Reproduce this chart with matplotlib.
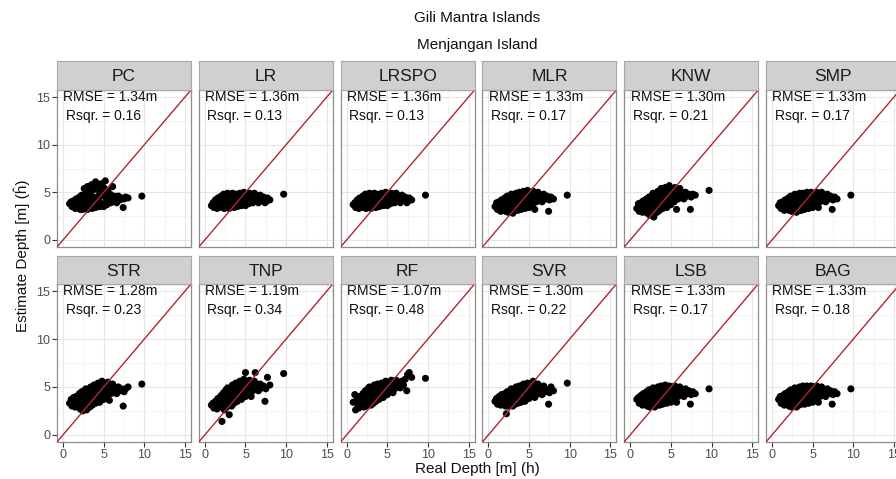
import matplotlib
matplotlib.use("Agg")
import matplotlib.pyplot as plt

plt.rcParams['font.family'] = ['Liberation Sans', 'DejaVu Sans']

# ---------------- data ----------------
models = ["PC", "LR", "LRSPO", "MLR", "KNW", "SMP",
          "STR", "TNP", "RF", "SVR", "LSB", "BAG"]
rmse = [1.34, 1.36, 1.36, 1.33, 1.30, 1.33, 1.28, 1.19, 1.07, 1.30, 1.33, 1.33]
rsqr = [0.16, 0.13, 0.13, 0.17, 0.21, 0.17, 0.23, 0.34, 0.48, 0.22, 0.17, 0.18]

real_depth = [0.8, 1.0, 1.1, 1.3, 1.4, 1.5, 1.6, 1.7, 1.8, 1.9,
              2.0, 2.1, 2.1, 2.2, 2.3, 2.4, 2.4, 2.5, 2.6, 2.7,
              2.8, 2.8, 2.9, 3.0, 3.0, 3.1, 3.2, 3.3, 3.3, 3.4,
              3.5, 3.5, 3.6, 3.7, 3.8, 3.8, 3.9, 4.0, 4.0, 4.1,
              4.2, 4.3, 4.3, 4.4, 4.5, 4.6, 4.6, 4.7, 4.8, 4.9,
              5.0, 5.0, 5.1, 5.2, 5.3, 5.4, 5.5, 5.6, 5.7, 5.8,
              5.9, 6.0, 6.1, 6.2, 6.3, 6.5, 6.6, 6.8, 7.0, 7.2,
              7.5, 7.7, 8.0, 2.6, 3.6, 4.5, 5.5, 1.2, 7.4, 9.7]

est_PC = [3.8, 4.0, 3.5, 4.1, 3.6, 3.3, 4.3, 3.7, 3.4, 4.0,
          4.5, 3.2, 3.9, 3.6, 4.7, 3.2, 4.2, 3.8, 5.4, 3.4,
          4.0, 4.8, 3.6, 5.6, 3.2, 4.6, 3.8, 5.1, 3.4, 4.8,
          5.8, 4.4, 3.3, 4.1, 5.3, 3.6, 4.0, 6.1, 3.4, 4.5,
          3.8, 5.6, 3.5, 4.3, 5.0, 4.6, 3.6, 5.9, 4.9, 3.8,
          5.5, 3.5, 4.7, 6.2, 4.4, 3.7, 5.2, 4.2, 3.9, 4.8,
          3.9, 4.5, 5.6, 4.1, 4.6, 4.3, 3.9, 4.6, 4.2, 4.4,
          4.3, 4.5, 4.4, 3.5, 4.1, 3.5, 4.1, 3.9, 3.4, 4.6]
est_LR = [3.6, 3.9, 3.4, 4.2, 3.7, 3.3, 4.4, 3.8, 3.5, 4.1,
          4.6, 3.4, 4.0, 3.7, 4.8, 3.3, 4.3, 3.9, 4.6, 3.5,
          4.1, 4.9, 3.7, 4.4, 3.3, 4.7, 3.9, 4.2, 3.5, 4.9,
          3.8, 4.5, 3.4, 4.2, 4.8, 3.7, 4.0, 4.6, 3.5, 4.3,
          3.9, 4.9, 3.6, 4.4, 4.0, 4.7, 3.7, 4.3, 5.0, 3.9,
          4.5, 3.6, 4.8, 4.1, 4.6, 3.8, 4.9, 4.3, 4.0, 4.7,
          3.9, 4.5, 4.9, 4.1, 4.6, 4.3, 3.9, 4.7, 4.2, 4.5,
          4.0, 4.4, 4.2, 3.6, 4.1, 3.6, 4.2, 4.0, 3.9, 4.8]
est_LRSPO = [3.7, 3.9, 3.4, 4.2, 3.6, 3.3, 4.4, 3.8, 3.5, 4.1,
             4.6, 3.4, 4.0, 3.7, 4.8, 3.3, 4.3, 3.9, 4.6, 3.5,
             4.1, 4.9, 3.7, 4.4, 3.3, 4.7, 3.9, 4.2, 3.5, 4.9,
             3.8, 4.5, 3.4, 4.2, 4.8, 3.7, 4.0, 4.6, 3.5, 4.3,
             3.9, 4.9, 3.6, 4.4, 4.0, 4.7, 3.7, 4.3, 5.0, 3.9,
             4.5, 3.6, 4.8, 4.1, 4.6, 3.8, 4.9, 4.3, 4.0, 4.7,
             3.9, 4.5, 4.9, 4.1, 4.6, 4.3, 3.9, 4.7, 4.2, 4.5,
             4.0, 4.4, 4.2, 3.6, 4.1, 3.6, 4.2, 4.0, 3.9, 4.7]
est_MLR = [3.5, 3.9, 3.2, 4.0, 3.5, 3.0, 4.2, 3.6, 3.2, 3.9,
           4.4, 3.0, 3.7, 3.4, 4.6, 2.9, 4.1, 3.6, 4.5, 3.2,
           3.9, 4.8, 3.4, 4.3, 2.8, 4.7, 3.7, 4.1, 3.1, 4.9,
           3.6, 4.5, 3.1, 4.2, 5.0, 3.5, 3.9, 4.7, 3.2, 4.3,
           3.8, 5.1, 3.4, 4.4, 3.9, 4.9, 3.5, 4.3, 5.2, 3.8,
           4.6, 3.4, 5.0, 4.1, 4.7, 3.7, 5.1, 4.4, 3.2, 4.8,
           4.0, 4.6, 5.0, 4.2, 4.7, 4.4, 4.0, 4.8, 4.3, 4.6,
           4.2, 4.5, 4.3, 3.3, 4.0, 3.3, 4.2, 3.7, 3.0, 4.7]
est_KNW = [3.3, 3.8, 3.0, 3.9, 3.3, 2.9, 4.1, 3.5, 3.0, 3.8,
           4.3, 2.8, 3.6, 3.2, 4.5, 2.6, 4.0, 3.5, 4.6, 3.0,
           3.8, 4.9, 2.4, 4.2, 3.0, 4.8, 3.6, 4.3, 2.9, 5.1,
           3.7, 4.6, 3.1, 4.4, 5.4, 3.4, 4.0, 5.0, 3.3, 4.5,
           3.8, 5.5, 3.5, 4.6, 4.1, 5.2, 3.6, 4.5, 5.7, 4.0,
           4.8, 3.7, 5.3, 4.3, 5.0, 4.0, 5.5, 4.6, 3.2, 5.1,
           4.3, 4.9, 5.4, 4.5, 5.0, 4.7, 4.3, 5.0, 4.6, 4.8,
           4.5, 4.8, 4.7, 3.2, 4.0, 3.4, 4.4, 3.6, 3.2, 5.2]
est_SMP = [3.6, 3.9, 3.3, 4.0, 3.5, 3.1, 4.2, 3.7, 3.2, 3.9,
           4.4, 3.1, 3.8, 3.4, 4.6, 3.0, 4.1, 3.6, 4.5, 3.2,
           3.9, 4.8, 3.4, 4.3, 2.9, 4.7, 3.7, 4.1, 3.1, 4.9,
           3.6, 4.5, 3.1, 4.2, 4.9, 3.5, 3.9, 4.7, 3.2, 4.3,
           3.8, 5.0, 3.4, 4.4, 3.9, 4.8, 3.5, 4.3, 5.0, 3.8,
           4.6, 3.4, 4.9, 4.1, 4.7, 3.7, 5.0, 4.4, 3.4, 4.8,
           4.0, 4.6, 5.0, 4.2, 4.7, 4.4, 4.0, 4.8, 4.3, 4.6,
           4.2, 4.5, 4.3, 3.3, 4.0, 3.3, 4.2, 3.7, 3.2, 4.7]
est_STR = [3.3, 3.7, 3.0, 3.9, 3.3, 2.9, 4.0, 3.5, 3.0, 3.8,
           4.3, 2.7, 3.6, 3.2, 4.5, 2.5, 4.0, 3.5, 4.6, 3.0,
           3.8, 4.8, 2.6, 4.2, 3.0, 4.7, 3.6, 4.3, 2.9, 5.0,
           3.7, 4.6, 3.1, 4.4, 5.2, 3.4, 4.0, 4.9, 3.3, 4.5,
           3.8, 5.4, 3.5, 4.6, 4.1, 5.1, 3.6, 4.5, 5.6, 4.0,
           4.8, 3.7, 5.3, 4.3, 5.0, 4.0, 5.5, 4.6, 3.6, 5.1,
           4.3, 4.9, 5.3, 4.5, 5.0, 4.7, 4.3, 5.0, 4.6, 4.8,
           4.5, 4.8, 5.0, 3.2, 4.0, 3.4, 4.4, 3.6, 3.0, 5.3]
est_TNP = [3.1, 3.3, 2.8, 3.5, 3.0, 2.7, 3.8, 3.2, 2.9, 3.6,
           4.1, 1.4, 3.4, 3.0, 4.4, 2.6, 3.9, 3.3, 4.7, 2.9,
           3.7, 4.9, 3.2, 4.3, 2.1, 4.8, 3.6, 4.4, 3.0, 5.2,
           3.8, 4.7, 3.3, 4.5, 5.4, 3.6, 4.1, 5.1, 3.5, 4.7,
           4.0, 5.6, 3.8, 4.8, 4.3, 5.3, 3.9, 4.7, 5.8, 4.2,
           6.5, 4.0, 5.5, 4.6, 5.2, 4.3, 5.7, 4.9, 4.0, 5.4,
           4.6, 5.2, 5.6, 6.5, 5.3, 5.0, 4.6, 5.3, 4.9, 5.1,
           4.8, 6.0, 5.2, 4.6, 4.3, 3.7, 4.7, 3.2, 3.5, 6.4]
est_RF = [3.4, 4.2, 2.6, 3.8, 3.0, 2.8, 4.0, 3.4, 3.0, 3.8,
          4.3, 2.9, 3.7, 3.3, 4.6, 3.0, 4.1, 3.6, 4.8, 3.2,
          4.0, 5.0, 3.4, 4.5, 3.1, 4.9, 3.8, 4.6, 3.3, 5.2,
          4.0, 4.8, 3.5, 4.6, 5.3, 3.9, 4.3, 5.1, 3.7, 4.8,
          4.2, 5.4, 4.0, 4.9, 4.5, 5.3, 4.1, 4.8, 5.6, 4.4,
          5.1, 4.2, 5.5, 4.7, 5.3, 4.5, 5.7, 5.0, 4.4, 5.4,
          4.8, 5.3, 5.7, 5.0, 5.5, 5.3, 4.9, 5.6, 5.2, 5.8,
          6.3, 6.5, 6.0, 3.9, 4.4, 3.9, 4.8, 3.5, 4.6, 5.9]
est_SVR = [3.5, 3.8, 3.2, 4.0, 3.4, 3.1, 4.2, 3.6, 3.2, 3.9,
           4.3, 3.0, 3.7, 2.2, 4.5, 3.0, 4.1, 3.5, 4.6, 3.1,
           3.9, 4.8, 3.3, 4.3, 3.0, 4.7, 3.7, 4.2, 3.2, 5.0,
           3.7, 4.6, 3.3, 4.3, 5.1, 3.6, 4.0, 4.8, 3.4, 4.4,
           3.9, 5.3, 3.6, 4.5, 4.1, 5.0, 3.7, 4.4, 5.4, 4.0,
           4.7, 3.8, 5.2, 4.3, 4.9, 4.0, 5.6, 4.5, 3.9, 5.0,
           4.2, 4.8, 5.3, 4.4, 4.9, 4.6, 4.2, 5.1, 4.5, 4.7,
           4.4, 5.0, 4.6, 3.4, 4.1, 3.5, 4.4, 3.8, 3.2, 5.4]
est_LSB = [3.7, 3.9, 3.3, 4.1, 3.5, 3.1, 4.3, 3.7, 3.2, 4.0,
           4.5, 3.0, 3.8, 3.4, 4.7, 2.9, 4.1, 3.6, 4.6, 3.2,
           3.9, 4.9, 3.4, 4.3, 2.9, 4.8, 3.7, 4.2, 3.1, 5.0,
           3.6, 4.6, 3.1, 4.3, 5.1, 3.5, 3.9, 4.8, 3.2, 4.4,
           3.8, 5.2, 3.4, 4.5, 3.9, 4.9, 3.5, 4.4, 5.1, 3.8,
           4.6, 3.4, 5.0, 4.1, 4.7, 3.7, 5.1, 4.4, 3.4, 4.8,
           4.0, 4.6, 5.0, 4.2, 4.7, 4.4, 4.0, 4.8, 4.3, 4.6,
           4.2, 4.5, 4.3, 3.3, 4.0, 3.3, 4.2, 3.7, 3.2, 4.8]
est_BAG = [3.7, 4.0, 3.3, 4.1, 3.5, 3.1, 4.3, 3.7, 3.2, 4.0,
           4.5, 3.0, 3.8, 3.5, 4.7, 2.9, 4.1, 3.6, 4.6, 3.2,
           3.9, 4.9, 3.4, 4.4, 2.9, 4.8, 3.7, 4.2, 3.1, 5.0,
           3.6, 4.6, 3.2, 4.3, 5.1, 3.5, 3.9, 4.8, 3.2, 4.4,
           3.8, 5.1, 3.4, 4.5, 3.9, 4.9, 3.5, 4.4, 5.1, 3.8,
           4.6, 3.4, 5.0, 4.1, 4.7, 3.7, 5.1, 4.4, 3.4, 4.8,
           4.0, 4.6, 5.0, 4.2, 4.7, 4.4, 4.0, 4.8, 4.3, 4.6,
           4.2, 4.5, 4.3, 3.3, 4.0, 3.3, 4.2, 3.7, 3.2, 4.8]

estimates = [est_PC, est_LR, est_LRSPO, est_MLR, est_KNW, est_SMP,
             est_STR, est_TNP, est_RF, est_SVR, est_LSB, est_BAG]

tick_values = [0, 5, 10, 15]
minor_values = [2.5, 7.5, 12.5]
axis_lim = (-0.75, 15.75)

# ---------------- layout ----------------
W, H = 896, 479
fig = plt.figure(figsize=(W / 100, H / 100), dpi=100)
fig.patch.set_facecolor("white")

col_left = [57 + 141.8 * i for i in range(6)]
pw = 134
rows = [(61, 90, 247), (256, 284, 442)]  # strip top, panel top, panel bottom

for idx, name in enumerate(models):
    r, c = divmod(idx, 6)
    st, pt, pb = rows[r]
    l = col_left[c]
    ax = fig.add_axes([l / W, 1 - pb / H, pw / W, (pb - pt) / H])
    ax.set_facecolor("white")
    ax.set_xlim(*axis_lim)
    ax.set_ylim(*axis_lim)
    ax.set_xticks(tick_values)
    ax.set_yticks(tick_values)
    ax.set_xticks(minor_values, minor=True)
    ax.set_yticks(minor_values, minor=True)
    ax.grid(True, which="major", color="#E6E6E6", lw=0.8, zorder=0)
    ax.grid(True, which="minor", color="#F3F3F3", lw=0.6, zorder=0)
    ax.set_axisbelow(True)
    for sp in ax.spines.values():
        sp.set_color("#8C8C8C")
        sp.set_linewidth(0.9)
    ax.tick_params(which="minor", length=0)
    ax.tick_params(which="major", length=3.5, width=0.8, color="#333333",
                   labelsize=9, labelcolor="#4D4D4D", pad=1.5)
    ax.tick_params(left=(c == 0), labelleft=(c == 0),
                   bottom=(r == 1), labelbottom=(r == 1))

    ax.scatter(real_depth, estimates[idx], s=26, c="black",
               edgecolors="none", zorder=3)
    ax.axline((0, 0), slope=1, color="#B3262B", lw=1.0, zorder=4)

    ax.text(0.05, 15.0, f"RMSE = {rmse[idx]:.2f}m", fontsize=10,
            ha="left", va="center", color="#111111", zorder=5)
    ax.text(0.3, 13.0, f"Rsqr. = {rsqr[idx]:.2f}", fontsize=10,
            ha="left", va="center", color="#111111", zorder=5)

    sax = fig.add_axes([l / W, 1 - pt / H, pw / W, (pt - st) / H])
    sax.set_facecolor("#D0D0D0")
    sax.set_xticks([])
    sax.set_yticks([])
    for sp in sax.spines.values():
        sp.set_color("#A8A8A8")
        sp.set_linewidth(0.8)
    sax.text(0.5, 0.45, name, transform=sax.transAxes, ha="center",
             va="center", fontsize=12.5, color="#1A1A1A")

fig.text(477 / W, 1 - 18 / H, "Gili Mantra Islands", ha="center",
         va="center", fontsize=11, color="#111111")
fig.text(477 / W, 1 - 45 / H, "Menjangan Island", ha="center",
         va="center", fontsize=11, color="#111111")
fig.text(477 / W, 1 - 469 / H, "Real Depth [m] (h)", ha="center",
         va="center", fontsize=11, color="#111111")
fig.text(22 / W, 1 - 256 / H, "Estimate Depth [m] (ĥ)", ha="center",
         va="center", rotation=90, fontsize=11, color="#111111")

fig.savefig("out.png", dpi=100, facecolor="white")
